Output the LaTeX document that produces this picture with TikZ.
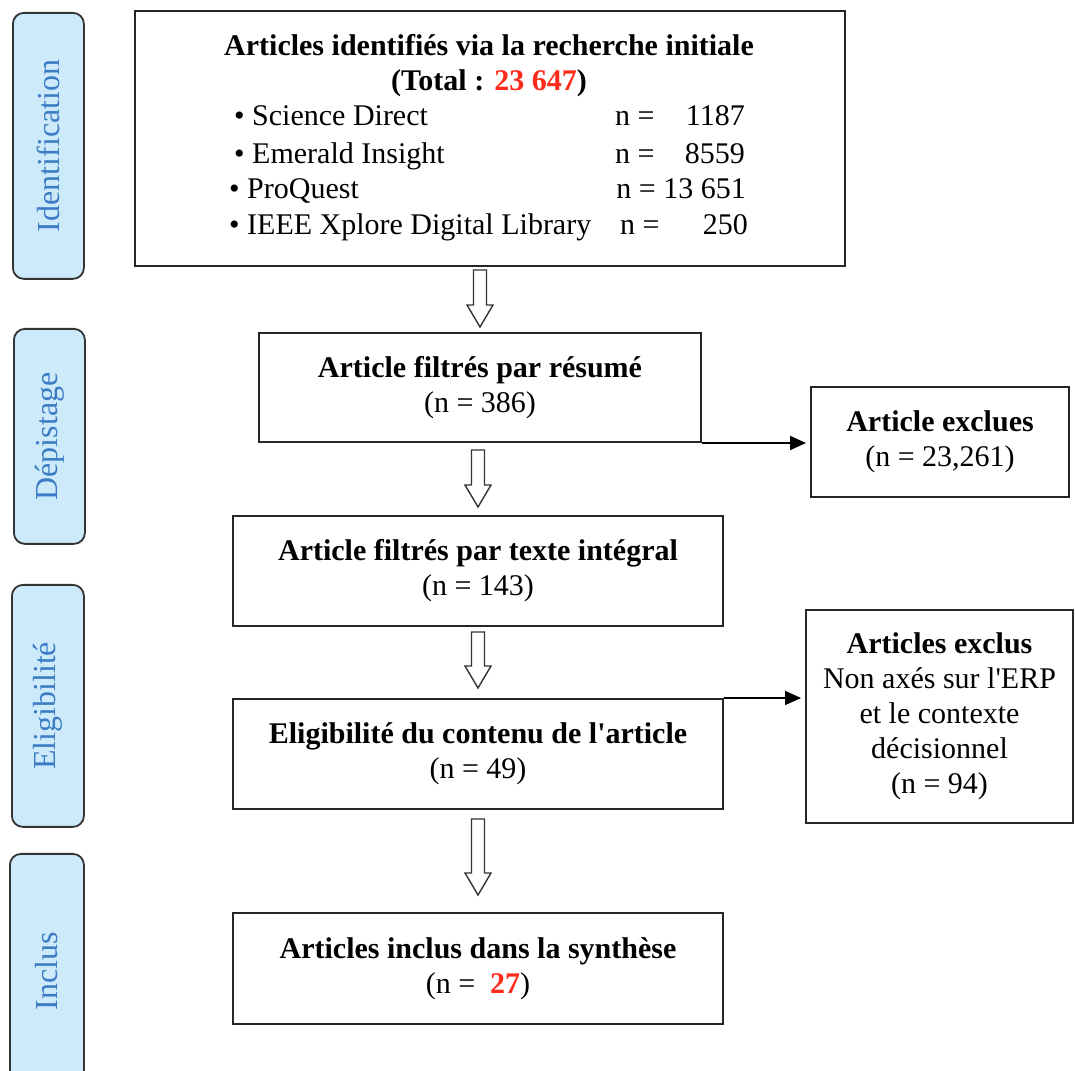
\documentclass[tikz,border=0pt]{standalone}
\usepackage{fontspec}
\setmainfont{Liberation Serif}[Ligatures=TeXOff]
\usetikzlibrary{calc,arrows.meta}

\definecolor{phasefill}{HTML}{CDEAFB}
\definecolor{phasetext}{HTML}{3B7CC4}
\definecolor{numred}{HTML}{FF2A1A}

\newcommand{\boxfont}{\fontsize{30}{35}\selectfont}
\newcommand{\phasefont}{\fontsize{32}{36}\selectfont}

% hollow block arrow pointing down, from point #1 to point #2 (same x)
\newcommand{\hollowdown}[2]{%
  \draw[hollow] let \p1=(#1), \p2=(#2) in
    (\x1-6.5pt,\y1) -- (\x1+6.5pt,\y1) -- (\x1+6.5pt,\y2+22pt) --
    (\x1+13pt,\y2+22pt) -- (\x1,\y2) -- (\x1-13pt,\y2+22pt) --
    (\x1-6.5pt,\y2+22pt) -- cycle;}

\begin{document}
\begin{tikzpicture}[x=1pt,y=1pt,
  box/.style={draw=black!85, line width=2pt, inner sep=0pt, align=center,
    anchor=north west, font=\boxfont, fill=white},
  phase/.style={draw=black!80, line width=1.8pt, rounded corners=11pt,
    fill=phasefill, inner sep=0pt, anchor=north west},
  phaselabel/.style={rotate=90, text=phasetext, font=\phasefont},
  item/.style={anchor=base west, font=\boxfont, inner sep=0pt},
  count/.style={anchor=base east, font=\boxfont, inner sep=0pt},
  hollow/.style={draw=black!80, line width=1.4pt, fill=white, line join=miter},
  side/.style={draw=black, line width=1.8pt, -{Triangle[length=16pt,width=14pt]},
    shorten >=4pt}
]
\useasboundingbox (0,0) rectangle (1075,1070);

% phase bands on the left
\node[phase, minimum width=71pt, minimum height=266pt] (s1) at (12,1058) {};
\node[phaselabel] (s1t) at (s1.center) {Identification};
\node[phase, minimum width=71pt, minimum height=215pt] (s2) at (13,742) {};
\node[phaselabel] (s2t) at (s2.center) {Dépistage};
\node[phase, minimum width=72pt, minimum height=242pt] (s3) at (11,486) {};
\node[phaselabel] (s3t) at (s3.center) {Eligibilité};
\node[phase, minimum width=74pt, minimum height=235pt] (s4) at (9,217) {};
\node[phaselabel] (s4t) at (s4.center) {Inclus};

% identification box
\node[box, minimum width=710pt, minimum height=255pt] (b1) at (134,1060) {};
\node[font=\boxfont, align=center, inner sep=0pt] (b1t) at (489,1004)
  {\textbf{Articles identifiés via la recherche initiale}\\
   \textbf{(Total : \textcolor{numred}{23 647})}};
\node[item] (l1) at (234,944) {• Science Direct};
\node[item] (l1n) at (615,944) {n =};
\node[count] (l1c) at (745,944) {1187};
\node[item] (l2) at (234,906) {• Emerald Insight};
\node[item] (l2n) at (615,906) {n =};
\node[count] (l2c) at (745,906) {8559};
\node[item] (l3) at (229,871) {• ProQuest};
\node[count] (l3c) at (746,871) {n = 13 651};
\node[item] (l4) at (229,835) {• IEEE Xplore Digital Library};
\node[item] (l4n) at (620,835) {n =};
\node[count] (l4c) at (748,835) {250};

% screening
\node[box, minimum width=442pt, minimum height=109pt] (b2) at (258,738)
  {\textbf{Article filtrés par résumé}\\(n = 386)};
\node[box, minimum width=258pt, minimum height=110pt] (ex1) at (810,684)
  {\textbf{Article exclues}\\(n = 23,261)};
\node[box, minimum width=490pt, minimum height=110pt] (b3) at (232,555)
  {\textbf{Article filtrés par texte intégral}\\(n = 143)};

% eligibility
\node[box, minimum width=490pt, minimum height=110pt] (b4) at (232,372)
  {\textbf{Eligibilité du contenu de l'article}\\(n = 49)};
\node[box, minimum width=267pt, minimum height=213pt] (ex2) at (805,461)
  {\textbf{Articles exclus}\\Non axés sur l'ERP\\et le contexte\\décisionnel\\(n = 94)};

% included
\node[box, minimum width=490pt, minimum height=111pt] (b5) at (232,158)
  {\textbf{Articles inclus dans la synthèse}\\(n =\ \ \textcolor{numred}{\textbf{27}})};

% flow arrows
\coordinate (a1t) at ([yshift=-3pt]b2.north |- b1.south);
\coordinate (a1b) at ([yshift=5pt]b2.north);
\coordinate (a2t) at ([yshift=-7pt]b3.north |- b2.south);
\coordinate (a2b) at ([yshift=8pt]b3.north);
\coordinate (a3t) at ([yshift=-5pt]b3.south);
\coordinate (a3b) at ([yshift=10pt]b4.north);
\coordinate (a4t) at ([yshift=-9pt]b4.south);
\coordinate (a4b) at ([yshift=17pt]b5.north);
\hollowdown{a1t}{a1b}
\hollowdown{a2t}{a2b}
\hollowdown{a3t}{a3b}
\hollowdown{a4t}{a4b}

% exclusion arrows
\draw[side] (b2.south east) -- (b2.south east -| ex1.west);
\draw[side] (b4.north east) -- (b4.north east -| ex2.west);
\end{tikzpicture}
\end{document}
